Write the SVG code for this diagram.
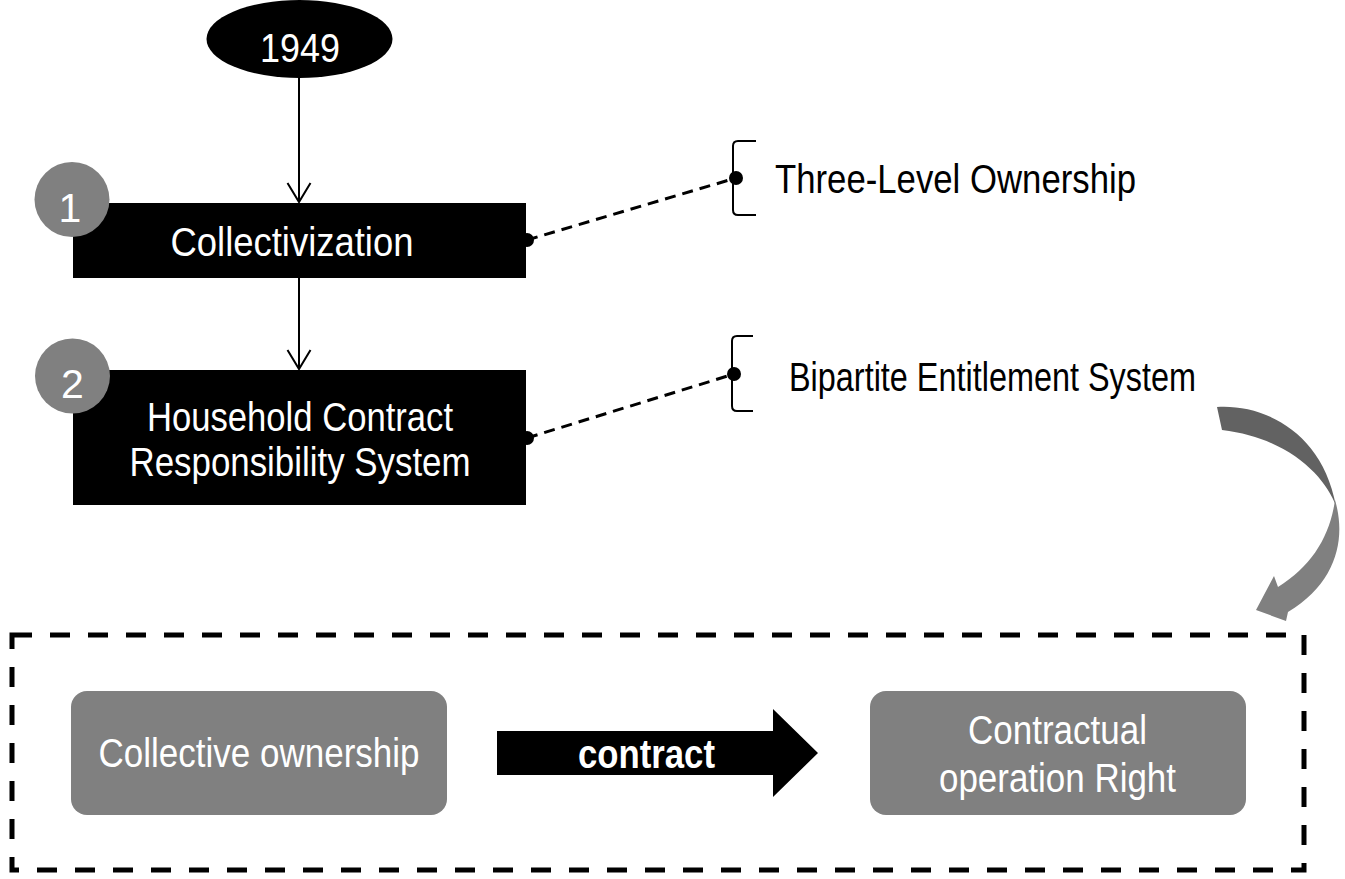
<svg xmlns="http://www.w3.org/2000/svg" width="1345" height="879" viewBox="0 0 1345 879">
<style>
.t{font-family:"Liberation Sans",Arial,sans-serif;font-size:41px;}
.w{fill:#ffffff;}
.k{fill:#000000;}
.m{text-anchor:middle;}
.ln{stroke:#000;stroke-width:2;fill:none;}
.dash{stroke:#000;stroke-width:3;stroke-dasharray:11 7;fill:none;}
.gbox{fill:#808080;}
.num{fill:#808080;}
</style>
<rect width="1345" height="879" fill="#fff"/>
<g id="connectors">
  <line class="ln" x1="299" y1="76" x2="299" y2="202"/>
  <polyline class="ln" points="287.5,183 299,202 310.5,183"/>
  <line class="ln" x1="299" y1="278" x2="299" y2="369"/>
  <polyline class="ln" points="287.5,350 299,369 310.5,350"/>
  <line class="dash" x1="527" y1="240" x2="736" y2="178"/>
  <circle cx="527" cy="240" r="7" fill="#000"/>
  <circle cx="736" cy="178" r="7" fill="#000"/>
  <line class="dash" x1="527" y1="438" x2="734" y2="374"/>
  <circle cx="527" cy="438" r="7" fill="#000"/>
  <circle cx="734" cy="374" r="7" fill="#000"/>
  <path class="ln" d="M756,141 H738 Q733,141 733,146 V210 Q733,215 738,215 H756"/>
  <path class="ln" d="M753,336 H737 Q732,336 732,341 V406 Q732,411 737,411 H753"/>
  <g id="curved-arrow">
    <path fill="#626262" d="M1217,407 C1262,404 1322,430 1336,506 C1326,478 1290,438 1222,430 Z"/>
    <path fill="#808080" d="M1335,500 C1346,537 1338,582 1288,612 L1286,621 L1256,610 L1274,576 L1278,587 C1312,566 1330,536 1335,500 Z"/>
  </g>
  <g id="contract-arrow">
    <polygon fill="#000" points="497,731 773,731 773,709 818,753 773,797 773,775 497,775"/>
    <text class="t w m" x="646.5" y="768" font-size="41" font-weight="bold" textLength="137" lengthAdjust="spacingAndGlyphs">contract</text>
  </g>
</g>
<g id="n1949">
  <ellipse cx="299.5" cy="39" rx="93" ry="39" fill="#000"/>
  <text class="t w m" x="300" y="62" font-size="48" textLength="80" lengthAdjust="spacingAndGlyphs">1949</text>
</g>
<g id="collectivization">
  <rect x="73" y="203" width="453" height="75" fill="#000"/>
  <text class="t w m" x="292" y="256" textLength="243" lengthAdjust="spacingAndGlyphs">Collectivization</text>
</g>
<g id="step1">
  <circle class="num" cx="72" cy="199.5" r="37.5"/>
  <text class="t w m" x="70" y="222" font-size="62">1</text>
</g>
<g id="hcrs">
  <rect x="73" y="370" width="453" height="135" fill="#000"/>
  <text class="t w m" x="300" y="431" textLength="306" lengthAdjust="spacingAndGlyphs">Household Contract</text>
  <text class="t w m" x="300" y="476" textLength="341" lengthAdjust="spacingAndGlyphs">Responsibility System</text>
</g>
<g id="step2">
  <circle class="num" cx="72.5" cy="376" r="37.5"/>
  <text class="t w m" x="72.5" y="398" font-size="62">2</text>
</g>
<g id="three-level">
  <text class="t k" x="775" y="193" textLength="361" lengthAdjust="spacingAndGlyphs">Three-Level Ownership</text>
</g>
<g id="bipartite">
  <text class="t k" x="789" y="391" font-size="40" textLength="407" lengthAdjust="spacingAndGlyphs">Bipartite Entitlement System</text>
</g>
<g id="frame">
  <rect x="12" y="635" width="1292" height="235" fill="none" stroke="#000" stroke-width="5" stroke-dasharray="20 18"/>
</g>
<g id="collective-ownership">
  <rect class="gbox" x="71" y="691" width="376" height="124" rx="16"/>
  <text class="t w m" x="259" y="767" textLength="321" lengthAdjust="spacingAndGlyphs">Collective ownership</text>
</g>
<g id="contractual-right">
  <rect class="gbox" x="870" y="691" width="376" height="124" rx="16"/>
  <text class="t w m" x="1057.5" y="744" textLength="179" lengthAdjust="spacingAndGlyphs">Contractual</text>
  <text class="t w m" x="1057.5" y="792" textLength="237" lengthAdjust="spacingAndGlyphs">operation Right</text>
</g>
</svg>
